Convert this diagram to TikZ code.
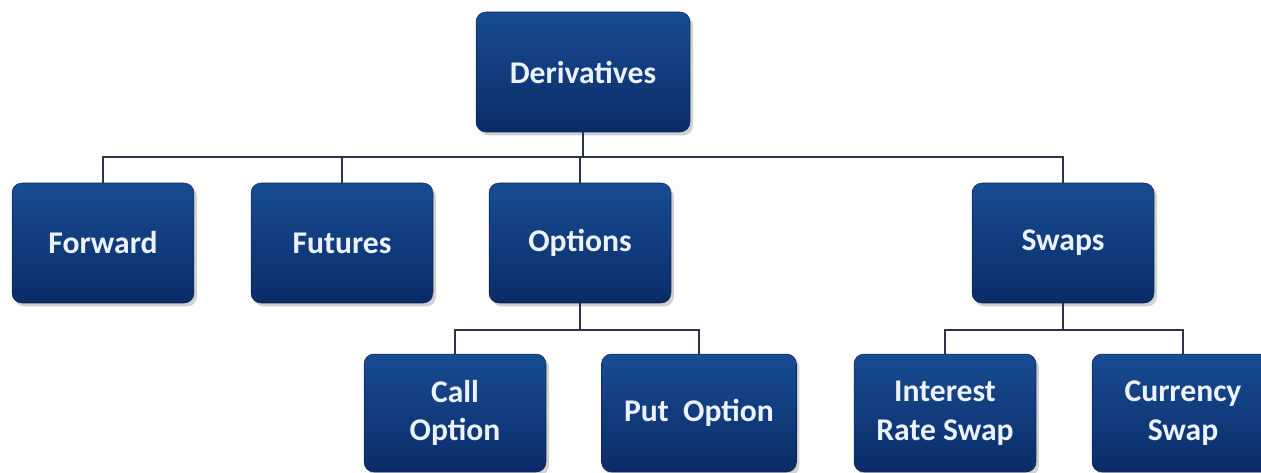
\documentclass[tikz,border=0pt]{standalone}
\usepackage{fontspec}
\setmainfont{Carlito}
\usepackage{xcolor}
\usetikzlibrary{shadows}
\definecolor{boxtop}{RGB}{24,76,146}
\definecolor{boxbot}{RGB}{10,44,104}
\definecolor{wire}{RGB}{45,52,72}
\definecolor{txt}{RGB}{236,242,255}

\begin{document}
\begin{tikzpicture}[x=0.02cm,y=-0.02cm,
  box/.style={rectangle, rounded corners=0.2cm, top color=boxtop, bottom color=boxbot,
    draw=boxbot!80!black, line width=0.3pt, minimum width=3.64cm, minimum height=2.4cm,
    text=txt, align=center, font=\fontsize{18}{22}\selectfont\bfseries,
    drop shadow={shadow xshift=0.06cm, shadow yshift=-0.07cm, fill=black!30, opacity=0.6}},
  wire/.style={draw=wire, line width=1.1pt}]
\useasboundingbox (0,0) rectangle (1261,473);
\node[box, minimum width=4.28cm] (der) at (583,72) {Derivatives};
\node[box] (fwd) at (103,243) {Forward};
\node[box] (fut) at (342,243) {Futures};
\node[box] (opt) at (580,243) {Options};
\node[box] (swp) at (1063,243) {Swaps};
\node[box, minimum height=2.36cm] (call) at (455,413) {Call\\Option};
\node[box, minimum width=3.9cm, minimum height=2.36cm] (put) at (699,413) {Put~ Option};
\node[box, minimum height=2.36cm] (irs) at (945,413) {Interest\\Rate Swap};
\node[box, minimum height=2.36cm] (cur) at (1183,413) {Currency\\Swap};
% connectors
\coordinate (j1) at (583,157);
\coordinate (j2) at (580,330);
\coordinate (j3) at (1063,330);
\draw[wire] (der.south) -- (j1);
\foreach \n in {fwd,fut,opt,swp} \draw[wire] (j1) -| (\n.north);
\draw[wire] (opt.south) -- (j2);
\foreach \n in {call,put} \draw[wire] (j2) -| (\n.north);
\draw[wire] (swp.south) -- (j3);
\foreach \n in {irs,cur} \draw[wire] (j3) -| (\n.north);
\end{tikzpicture}
\end{document}
